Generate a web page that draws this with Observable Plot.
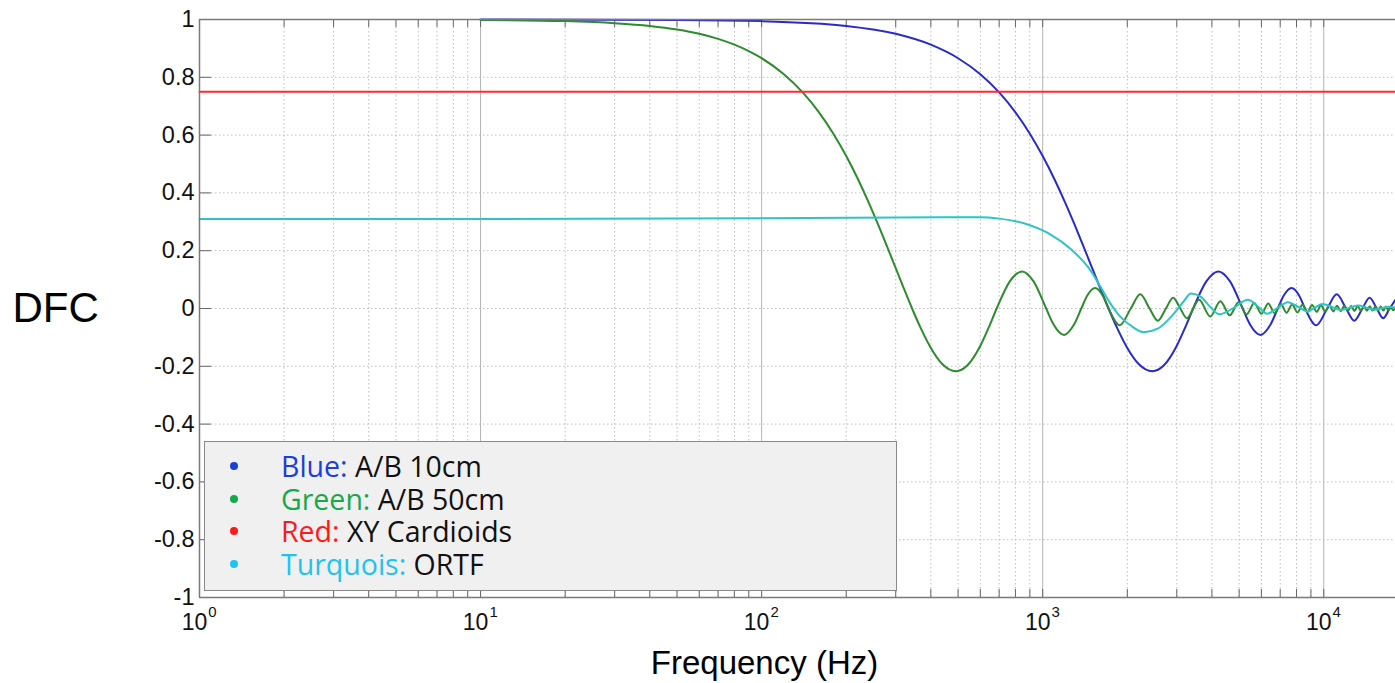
<!DOCTYPE html>
<html><head><meta charset="utf-8">
<script src="https://cdn.jsdelivr.net/npm/d3@7"></script>
<script src="https://cdn.jsdelivr.net/npm/@observablehq/plot@0.6"></script>
<style>
html,body{margin:0;padding:0;background:#fff;}
#wrap{position:relative;width:1395px;height:683px;overflow:hidden;}
#legend{position:absolute;left:204px;top:441px;width:691px;height:148px;background:#f0f0f0;border:1.5px solid #8a8a8a;font-family:"Open Sans",sans-serif;font-size:28.5px;color:#111;}
.item{position:absolute;left:0;height:32px;line-height:32px;}
.dot{position:absolute;left:25px;top:12px;width:8px;height:8px;border-radius:50%;}
.lbl{position:absolute;left:76px;white-space:nowrap;}
</style>
</head><body>
<div id="wrap"></div>
<script>
// ---- data ----
const xDecades = [1, 10, 100, 1000, 10000];
const xDecadeExp = ["0", "1", "2", "3", "4"];
const xMinor = [2,3,4,5,6,7,8,9,20,30,40,50,60,70,80,90,200,300,400,500,600,700,800,900,2000,3000,4000,5000,6000,7000,8000,9000];
const yTicks = [-1, -0.8, -0.6, -0.4, -0.2, 0, 0.2, 0.4, 0.6, 0.8, 1];
const yLabels = ["-1", "-0.8", "-0.6", "-0.4", "-0.2", "0", "0.2", "0.4", "0.6", "0.8", "1"];

// Blue: A/B 10cm
const blueFreq = [10,50,100,200,300,400,500,600,700,800,900,1000,1100,1200,1300,1400,1500,1600,1715,1850,2000,2200,2453,2700,3000,3200,3431,3821,4217,4640,5147,5459,5953,6442,6862,7206,7679,8189,8578,9401,10293,11121,12009,12839,13724,14557,15440,16273,17155,17993];
const blueDFC = [1,0.9986,0.9944,0.9778,0.9505,0.9129,0.866,0.8106,0.7476,0.6786,0.6047,0.5274,0.4481,0.3683,0.2893,0.2127,0.1395,0.0714,0,-0.0723,-0.1365,-0.193,-0.2172,-0.1966,-0.1289,-0.0698,0,0.0939,0.1284,0.0939,0,-0.0544,-0.0913,-0.0583,0,0.0449,0.0709,0.0434,0,-0.058,0,0.049,0,-0.0425,0,0.0375,0,-0.0335,0,0.03];

// Green: A/B 50cm
const greenFreq = [10,20,30,40,50,60,70,80,90,100,120,140,160,180,200,220,240,260,280,300,320,343,370,400,440,491,540,600,640,686,764,844,928,1029,1092,1191,1288,1372,1441,1536,1638,1715,1880,2058,2224,2401,2568,2744,2911,3087,3259,3602,3945,4288,4631,4974,5317,5660,6003,6346,6689,7032,7375,7718,8061,8404,8747,9090,9433,9776,10119,10462,10805,11148,11491,11834,12177,12520,12863,13206,13549,13892,14235,14578,14921,15264,15607,15950,16293,16636,16979,17322,17665,18008];
const greenDFC = [0.9986,0.9944,0.9874,0.9778,0.9654,0.9505,0.9329,0.9129,0.8906,0.866,0.8106,0.7476,0.6786,0.6047,0.5274,0.4481,0.3683,0.2893,0.2127,0.1395,0.0714,0,-0.0723,-0.1365,-0.193,-0.2172,-0.1966,-0.1289,-0.0698,0,0.0939,0.1284,0.0939,0,-0.0544,-0.0913,-0.0583,0,0.0449,0.0709,0.0434,0,-0.058,0,0.049,0,-0.0425,0,0.0375,0,-0.0335,0.0303,-0.0277,0.0255,-0.0236,0.022,-0.0205,0.0193,-0.0182,0.0172,-0.0163,0.0155,-0.0148,0.0141,-0.0135,0.013,-0.0125,0.012,-0.0116,0.0112,-0.0108,0.0104,-0.0101,0.0098,-0.0095,0.0092,-0.009,0.0087,-0.0085,0.0083,-0.0081,0.0079,-0.0077,0.0075,-0.0073,0.0072,-0.007,0.0068,-0.0067,0.0066,-0.0064,0.0063,-0.0062,0.0061];

// Red: XY Cardioids
const redFreq = [1, 18000];
const redDFC = [0.75, 0.75];

// Turquois: ORTF
const turqFreq = [1,10,100,300,500,600,700,800,900,1000,1067,1258,1482,1608,1745,1895,2057,2290,2566,2855,3178,3364,3655,3950,4250,4800,5370,5850,6290,6850,7450,8100,8760,9300,9900,10700,11500,12400,13300,14200,15200,16100,17000,18000];
const turqDFC = [0.31,0.31,0.312,0.315,0.316,0.316,0.311,0.302,0.288,0.27,0.256,0.206,0.131,0.074,0.016,-0.03,-0.059,-0.082,-0.07,-0.03,0.025,0.052,0.04,0.005,-0.02,0.003,0.03,0.006,-0.018,0.002,0.022,0.006,-0.01,0.003,0.016,0.005,-0.005,0.003,0.01,0.003,-0.004,0.001,0.006,0.002];

const legendNames = ["Blue:", "Green:", "Red:", "Turquois:"];
const legendLabels = ["A/B 10cm", "A/B 50cm", "XY Cardioids", "ORTF"];
const legendColors = ["#1c3fd4", "#16a84c", "#ff1a1a", "#1ec3f2"];
const lineColors = ["#2a2acc", "#2e8b2e", "#ff2b2b", "#2ec4c4"];

// ---- build ----
const toRows = (f, v) => f.map((x, i) => ({f: x, v: v[i]}));
const series = [toRows(blueFreq, blueDFC), toRows(greenFreq, greenDFC), toRows(redFreq, redDFC), toRows(turqFreq, turqDFC)];
const xAll = xDecades.concat(xMinor);

const plot = Plot.plot({
  width: 1395, height: 683,
  marginLeft: 199, marginRight: 0, marginTop: 19, marginBottom: 86,
  x: {type: "log", domain: [1, 18000], axis: null},
  y: {domain: [-1, 1], axis: null},
  style: {fontFamily: "'Liberation Sans', Arial, sans-serif", color: "#111", background: "#fff"},
  marks: [
    Plot.ruleX(xMinor, {stroke: "#bdbdbd", strokeDasharray: "1.5,2.5"}),
    Plot.ruleX(xDecades.slice(1), {stroke: "#b3b3b3"}),
    Plot.ruleY(yTicks, {stroke: "#bdbdbd", strokeDasharray: "1.5,2.5"}),
    Plot.tickX(xAll, {x: d => d, insetTop: 570, stroke: "#666"}),
    Plot.tickX(xAll, {x: d => d, insetBottom: 570, stroke: "#666"}),
    Plot.tickY(yTicks, {y: d => d, insetRight: 1184, stroke: "#666"}),
    ...series.map((s, i) => Plot.line(s, {x: "f", y: "v", curve: "monotone-x", stroke: lineColors[i], strokeWidth: 2})),
    Plot.ruleX([1], {stroke: "#7a7a7a", strokeWidth: 1.5}),
    Plot.ruleY([-1, 1], {stroke: "#7a7a7a", strokeWidth: 1.5}),
    Plot.text(yTicks, {y: d => d, frameAnchor: "left", textAnchor: "end", lineAnchor: "middle", dx: -5, text: (d, i) => yLabels[i], fontSize: 23.5, fill: "#111"}),
    Plot.text(xDecades, {x: d => d, frameAnchor: "bottom", lineAnchor: "middle", textAnchor: "middle", dx: -5, dy: 25, text: () => "10", fontSize: 23, fill: "#111"}),
    Plot.text(xDecades, {x: d => d, frameAnchor: "bottom", lineAnchor: "middle", textAnchor: "middle", dx: 13, dy: 15, text: (d, i) => xDecadeExp[i], fontSize: 15, fill: "#111"}),
    Plot.text(["DFC"], {frameAnchor: "left", textAnchor: "start", lineAnchor: "middle", dx: -187, text: d => d, fontSize: 42, fill: "#000"}),
    Plot.text(["Frequency (Hz)"], {frameAnchor: "bottom", textAnchor: "middle", lineAnchor: "middle", dx: -33, dy: 66, text: d => d, fontSize: 33, fill: "#000"})
  ]
});
const wrap = document.getElementById("wrap");
wrap.appendChild(plot);

const legend = document.createElement("div");
legend.id = "legend";
legendNames.forEach((n, i) => {
  const item = document.createElement("div");
  item.className = "item";
  item.style.top = (8 + i * 32.7) + "px";
  item.style.width = "100%";
  const dot = document.createElement("span");
  dot.className = "dot";
  dot.style.background = legendColors[i];
  const lbl = document.createElement("span");
  lbl.className = "lbl";
  const c = document.createElement("span");
  c.style.color = legendColors[i];
  c.textContent = n;
  lbl.appendChild(c);
  lbl.appendChild(document.createTextNode(" " + legendLabels[i]));
  item.appendChild(dot);
  item.appendChild(lbl);
  legend.appendChild(item);
});
wrap.appendChild(legend);
</script>
</body></html>
